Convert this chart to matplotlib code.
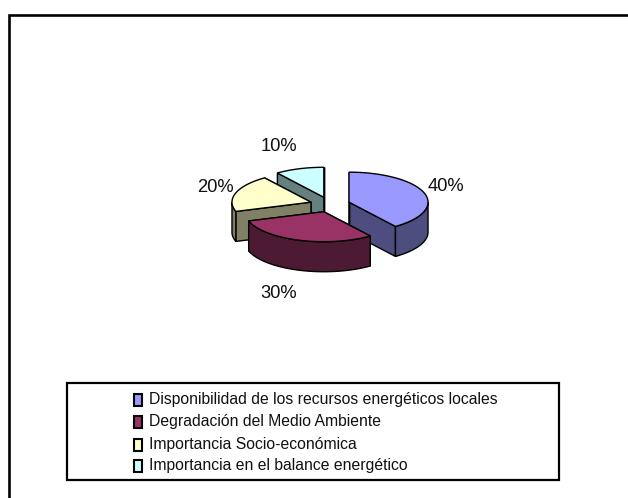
import numpy as np
import matplotlib
matplotlib.use('Agg')
import matplotlib.pyplot as plt
from matplotlib.patches import Polygon, Rectangle

categories = ['Disponibilidad de los recursos energéticos locales',
              'Degradación del Medio Ambiente',
              'Importancia Socio-económica',
              'Importancia en el balance energético']
values = [40, 30, 20, 10]
top_colors = ['#9999FF', '#993366', '#FFFFCC', '#CCFFFF']
side_colors = ['#4D4D80', '#4D1A33', '#808066', '#668080']

plt.rcParams['font.family'] = ['Liberation Sans']

# pie geometry, in pixels of the picture
cx, cy = 330, 204.5
rx, ry = 79, 30
depth = 30
explode = 20

fig = plt.figure(figsize=(6.28, 4.98), dpi=100)
ax = fig.add_axes([0, 0, 1, 1])
ax.set_xlim(0, 628)
ax.set_ylim(498, 0)
ax.axis('off')

# frame, only top and left
ax.plot([9, 9, 628], [498, 14.5, 14.5], color='black', lw=1.9, solid_joinstyle='miter')


def rim(a, ox, oy):
    # angle in degrees, clockwise from 12 o'clock
    t = np.radians(a)
    return np.column_stack([ox + rx * np.sin(t), oy - ry * np.cos(t)])


def draw_slice(start, end, top, side, z):
    mid = np.radians((start + end) / 2)
    ox = cx + explode * np.sin(mid)
    oy = cy - explode * ry / rx * np.cos(mid)
    apex = np.array([[ox, oy]])
    down = np.array([0, depth])

    # radial walls, the far one first
    for a in (end, start):
        p = rim(np.array([a]), ox, oy)
        wall = np.vstack([apex, p, p + down, apex + down])
        ax.add_patch(Polygon(wall, fc=side, ec='black', lw=1, zorder=z))

    # outer wall, only the part that faces the front
    lo, hi = max(start, 90), min(end, 270)
    if hi > lo:
        arc = rim(np.linspace(lo, hi, 60), ox, oy)
        wall = np.vstack([arc, arc[::-1] + down])
        ax.add_patch(Polygon(wall, fc=side, ec='black', lw=1, zorder=z))

    face = np.vstack([apex, rim(np.linspace(start, end, 80), ox, oy)])
    ax.add_patch(Polygon(face, fc=top, ec='black', lw=1, zorder=z))


edges = np.cumsum([0] + values) * 3.6
for z, i in enumerate([3, 2, 0, 1]):
    draw_slice(edges[i], edges[i + 1], top_colors[i], side_colors[i], z + 2)

label_x = [446, 279, 215, 279]
label_y = [186, 293, 187, 146]
for v, x, y in zip(values, label_x, label_y):
    ax.text(x, y, f'{v}%', fontsize=13.2, ha='center', va='center', color='#111111')

# legend box
ax.add_patch(Rectangle((67, 383), 492, 97, fc='white', ec='black', lw=1.6, zorder=5))
row_y = [400, 422, 445, 466]
for name, col, y in zip(categories, top_colors, row_y):
    ax.add_patch(Rectangle((133.5, y - 6), 8, 12, fc=col, ec='black', lw=1.5, zorder=6))
    ax.text(149, y - 0.5, name, fontsize=11.3, ha='left', va='center', color='#111111', zorder=6)

fig.savefig('out.png', dpi=100, facecolor='white')
